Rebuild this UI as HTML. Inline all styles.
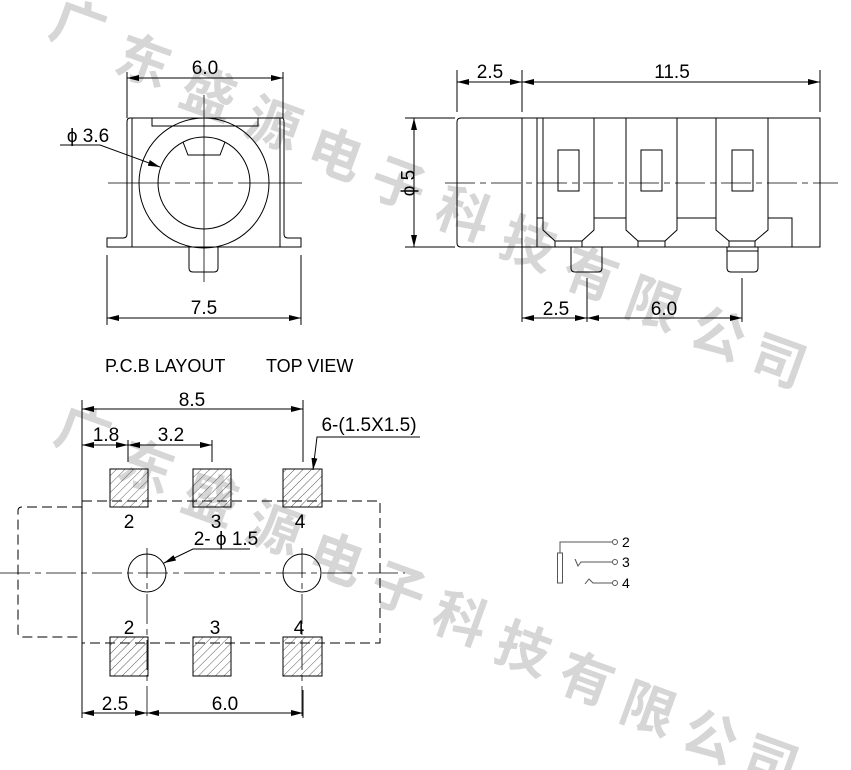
<!DOCTYPE html>
<html><head><meta charset="utf-8"><style>
html,body{margin:0;padding:0;background:#fff;}
svg{display:block;}
text{font-family:"Liberation Sans",Arial,sans-serif;}
.wm{font-family:"Noto Sans CJK SC","WenQuanYi Zen Hei",sans-serif;fill:#d6d6d6;font-size:54px;font-weight:bold;text-anchor:middle;dominant-baseline:central;}
</style></head><body>
<svg width="851" height="770" viewBox="0 0 851 770" xmlns="http://www.w3.org/2000/svg">
<defs>
<marker id="a" viewBox="0 0 12 6" refX="12" refY="3" markerWidth="12" markerHeight="6" orient="auto-start-reverse" markerUnits="userSpaceOnUse"><path d="M0,0L12,3L0,6z" fill="#000"/></marker>
<pattern id="h" width="6" height="6" patternUnits="userSpaceOnUse" patternTransform="rotate(45)"><line x1="0" y1="0" x2="0" y2="6" stroke="#333" stroke-width="0.8"/></pattern>
</defs>
<g>
<text class="wm" transform="translate(80,22) rotate(20)">广</text>
<text class="wm" transform="translate(145,57) rotate(20)">东</text>
<text class="wm" transform="translate(210,90) rotate(20)">盛</text>
<text class="wm" transform="translate(275,120) rotate(20)">源</text>
<text class="wm" transform="translate(337,150) rotate(20)">电</text>
<text class="wm" transform="translate(400,180) rotate(20)">子</text>
<text class="wm" transform="translate(465,210) rotate(20)">科</text>
<text class="wm" transform="translate(530,240) rotate(20)">技</text>
<text class="wm" transform="translate(592,270) rotate(20)">有</text>
<text class="wm" transform="translate(655,300) rotate(20)">限</text>
<text class="wm" transform="translate(720,330) rotate(20)">公</text>
<text class="wm" transform="translate(780,357) rotate(20)">司</text>
<text class="wm" transform="translate(85,428) rotate(20)">广</text>
<text class="wm" transform="translate(148,463) rotate(20)">东</text>
<text class="wm" transform="translate(212,495) rotate(20)">盛</text>
<text class="wm" transform="translate(276,525) rotate(20)">源</text>
<text class="wm" transform="translate(338,555) rotate(20)">电</text>
<text class="wm" transform="translate(400,585) rotate(20)">子</text>
<text class="wm" transform="translate(462,615) rotate(20)">科</text>
<text class="wm" transform="translate(525,645) rotate(20)">技</text>
<text class="wm" transform="translate(588,675) rotate(20)">有</text>
<text class="wm" transform="translate(650,705) rotate(20)">限</text>
<text class="wm" transform="translate(712,733) rotate(20)">公</text>
<text class="wm" transform="translate(772,758) rotate(20)">司</text>
</g>
<g fill="none" stroke="#000" stroke-width="1">
<line x1="127" y1="72" x2="127" y2="118"/><line x1="283" y1="72" x2="283" y2="118"/>
<line x1="127" y1="78" x2="283" y2="78" marker-start="url(#a)" marker-end="url(#a)"/>
<rect x="132" y="118" width="148" height="129"/>
<path d="M132,118 H130 Q127,118 127,122 V234 Q127,238 123,238 H107 V247 H132"/>
<path d="M280,118 H282 Q284,118 284,122 V234 Q284,238 288,238 H301 V247 H280"/>
<path d="M152,118 V126 H258 V118"/>
<circle cx="204" cy="183" r="65"/>
<circle cx="204" cy="183" r="46"/>
<path d="M183,142 L188,155 H220 L225,142"/>
<path d="M189,247 V268 Q189,272 193,272 H214 Q218,272 218,268 V247"/>
<line x1="204" y1="95" x2="204" y2="282" stroke-width="0.8"/>
<path d="M108,183 H160 M160,183 H170 M175,183 H190 M195,183 H213 M218,183 H233 M238,183 H248 M248,183 H302" stroke-width="0.8"/>
<line x1="107" y1="255" x2="107" y2="325"/><line x1="301" y1="255" x2="301" y2="325"/>
<line x1="107" y1="318" x2="301" y2="318" marker-start="url(#a)" marker-end="url(#a)"/>
<path d="M60,145 H100 L160,167" marker-end="url(#a)"/>
<line x1="457" y1="70" x2="457" y2="112"/><line x1="522" y1="70" x2="522" y2="112"/><line x1="820" y1="70" x2="820" y2="112"/>
<line x1="457" y1="82" x2="522" y2="82" marker-start="url(#a)" marker-end="url(#a)"/>
<line x1="522" y1="82" x2="820" y2="82" marker-start="url(#a)" marker-end="url(#a)"/>
<path d="M522,118 H461 Q457,118 457,122 V243 Q457,247 461,247 H522"/>
<path d="M522,118 H820 V247 H522"/>
<line x1="522" y1="118" x2="522" y2="322"/>
<line x1="537" y1="118" x2="537" y2="247"/>
<path d="M543,118 V230 L555,241 H582 L594,230 V118"/>
<path d="M555,241 V247 M582,241 V247"/>
<path d="M626,118 V230 L638,241 H665 L677,230 V118"/>
<path d="M638,241 V247 M665,241 V247"/>
<path d="M716,118 V230 L729,241 H755 L768,230 V118"/>
<path d="M729,241 V247 M755,241 V247"/>
<path d="M537,218 H543 M594,218 H626 M677,218 H716 M768,218 H792 V247"/>
<rect x="558" y="150" width="21" height="41"/>
<rect x="641" y="150" width="21" height="41"/>
<rect x="732" y="150" width="21" height="41"/>
<path d="M571,247 V268 Q571,272 575,272 H598 Q602,272 602,268 V247"/>
<path d="M727,247 V268 Q727,272 731,272 H754 Q758,272 758,268 V247 M727,251 H758"/>
<path d="M445,183 H838" stroke-width="0.8" stroke-dasharray="30,5,6,5"/>
<line x1="405" y1="118" x2="455" y2="118"/><line x1="405" y1="247" x2="455" y2="247"/>
<line x1="414" y1="118" x2="414" y2="247" marker-start="url(#a)" marker-end="url(#a)"/>
<line x1="587" y1="278" x2="587" y2="322"/><line x1="742" y1="278" x2="742" y2="322"/>
<line x1="522" y1="318" x2="587" y2="318" marker-start="url(#a)" marker-end="url(#a)"/>
<line x1="587" y1="318" x2="742" y2="318" marker-start="url(#a)" marker-end="url(#a)"/>
<line x1="82" y1="400" x2="82" y2="718"/><line x1="303" y1="400" x2="303" y2="462"/>
<line x1="82" y1="409" x2="303" y2="409" marker-start="url(#a)" marker-end="url(#a)"/>
<line x1="128" y1="440" x2="128" y2="462"/><line x1="212" y1="440" x2="212" y2="462"/>
<line x1="82" y1="445" x2="128" y2="445" marker-start="url(#a)" marker-end="url(#a)"/>
<line x1="128" y1="445" x2="212" y2="445" marker-start="url(#a)" marker-end="url(#a)"/>
<path d="M82,501 H380 V643 H82 M82,507 H22 Q18,507 18,511 V633 Q18,637 22,637 H82" stroke-dasharray="10,5"/>
<circle cx="147" cy="573" r="19"/><circle cx="302" cy="573" r="19"/>
<path d="M0,573 H405" stroke-width="0.8" stroke-dasharray="30,5,6,5"/>
<line x1="147" y1="548" x2="147" y2="718" stroke-width="0.8" stroke-dasharray="30,5,6,5"/>
<line x1="302" y1="548" x2="302" y2="718" stroke-width="0.8" stroke-dasharray="30,5,6,5"/>
<line x1="303" y1="690" x2="303" y2="718"/>
<line x1="82" y1="713" x2="147" y2="713" marker-start="url(#a)" marker-end="url(#a)"/>
<line x1="147" y1="713" x2="303" y2="713" marker-start="url(#a)" marker-end="url(#a)"/>
<path d="M420,437 H317 L313,470" marker-end="url(#a)"/>
<path d="M250,549 H193 L164,563" marker-end="url(#a)"/>
<path d="M560,553 V542 H612" stroke="#555"/>
<rect x="557.5" y="553" width="5" height="30" stroke="#555"/>
<path d="M575,559 L578,566 L581,562 H612" stroke="#555"/>
<path d="M585,584 L589,579 L593,583 H612" stroke="#555"/>
<circle cx="615" cy="542" r="2.5" stroke="#555"/><circle cx="615" cy="562" r="2.5" stroke="#555"/><circle cx="615" cy="583" r="2.5" stroke="#555"/>
</g>
<g stroke="#000" stroke-width="1" fill="url(#h)">
<rect x="110" y="469" width="38" height="38"/><rect x="193" y="469" width="38" height="38"/><rect x="283" y="469" width="39" height="38"/>
<rect x="110" y="637" width="38" height="39"/><rect x="193" y="637" width="38" height="39"/><rect x="283" y="637" width="39" height="39"/>
</g>
<g font-size="19" fill="#000" text-anchor="middle">
<text x="205" y="74">6.0</text>
<text x="204" y="314">7.5</text>
<text x="88" y="142">ϕ 3.6</text>
<text x="490" y="78">2.5</text>
<text x="672" y="78">11.5</text>
<text transform="translate(409,183) rotate(-90)" dominant-baseline="central">ϕ 5</text>
<text x="556" y="315">2.5</text>
<text x="664" y="315">6.0</text>
<text x="192" y="406">8.5</text>
<text x="106" y="441">1.8</text>
<text x="171" y="441">3.2</text>
<text x="369" y="431">6-(1.5X1.5)</text>
<text x="129" y="528">2</text><text x="216" y="528">3</text><text x="300" y="528">4</text>
<text x="129" y="634">2</text><text x="215" y="634">3</text><text x="299" y="634">4</text>
<text x="226" y="545">2- ϕ 1.5</text>
<text x="115" y="710">2.5</text>
<text x="225" y="710">6.0</text>
</g>
<text x="105" y="372" font-size="18" fill="#000">P.C.B LAYOUT</text>
<text x="266" y="372" font-size="18" fill="#000">TOP VIEW</text>
<g font-size="14" fill="#000"><text x="622" y="547">2</text><text x="622" y="567">3</text><text x="622" y="588">4</text></g>
</svg>
</body></html>
